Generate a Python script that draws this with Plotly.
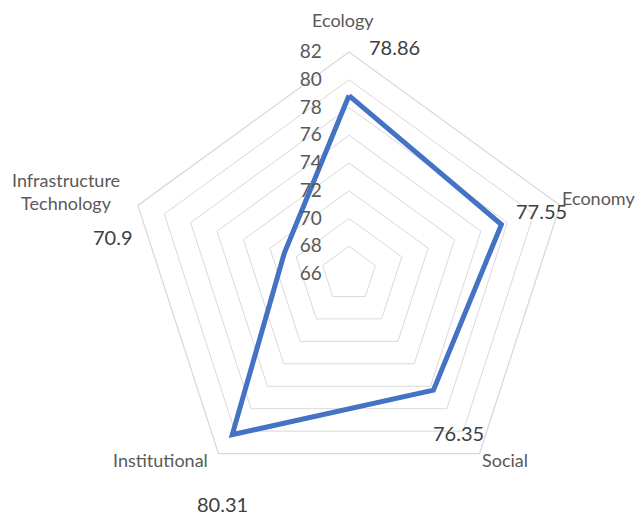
import plotly.graph_objects as go

categories = ["Ecology", "Economy", "Social", "Institutional", "Infrastructure Technology"]
values = [78.86, 77.55, 76.35, 80.31, 70.9]
radial_ticks = [66, 68, 70, 72, 74, 76, 78, 80, 82]
value_labels = ["78.86", "77.55", "76.35", "80.31", "70.9"]

W, H = 644, 517
OFF = 8  # page body margin offset
cx, cy, R = 349, 274, 222

fig = go.Figure()
fig.add_trace(go.Scatterpolar(
    r=values + values[:1],
    theta=categories + categories[:1],
    mode="lines",
    line=dict(color="#4472C4", width=5),
    hoverinfo="skip",
    showlegend=False,
))

def px2paper(x, y):
    return (x - OFF) / W, 1 - (y - OFF) / H

# text label placements (screen pixels)
cat_pos = [(343, 20), (598, 198), (505, 460), (160, 460), (66, 192)]
val_pos = [(394, 47), (541, 211), (458, 433), (222, 504), (113, 237)]

annotations = []
for name, (x, y) in zip(categories, cat_pos):
    px, py = px2paper(x, y)
    txt = name.replace(" ", "<br>")
    annotations.append(dict(x=px, y=py, xref="paper", yref="paper", text=txt,
                            showarrow=False, xanchor="center", yanchor="middle",
                            font=dict(family="Lato", size=18, color="#595959")))
for lab, (x, y) in zip(value_labels, val_pos):
    px, py = px2paper(x, y)
    annotations.append(dict(x=px, y=py, xref="paper", yref="paper", text=lab,
                            showarrow=False, xanchor="center", yanchor="middle",
                            font=dict(family="Lato", size=20, color="#404040")))

x0, y1 = px2paper(cx - R, cy - R)
x1, y0 = px2paper(cx + R, cy + R)

fig.update_layout(
    width=W, height=H,
    margin=dict(l=0, r=0, t=0, b=0),
    paper_bgcolor="white",
    plot_bgcolor="white",
    showlegend=False,
    annotations=annotations,
    polar=dict(
        domain=dict(x=[x0, x1], y=[y0, y1]),
        bgcolor="white",
        gridshape="linear",
        radialaxis=dict(
            range=[66, 82],
            tickvals=radial_ticks,
            angle=90,
            tickangle=90,
            showline=False,
            ticks="outside",
            ticklen=20,
            tickcolor="rgba(0,0,0,0)",
            gridcolor="#D9D9D9",
            gridwidth=1.3,
            tickfont=dict(family="Lato", size=19, color="#595959"),
            side="counterclockwise",
        ),
        angularaxis=dict(
            rotation=90,
            direction="clockwise",
            showgrid=False,
            showline=True,
            linecolor="#D9D9D9",
            linewidth=1.3,
            ticks="",
            showticklabels=False,
        ),
    ),
)

fig.write_html("out.html")
